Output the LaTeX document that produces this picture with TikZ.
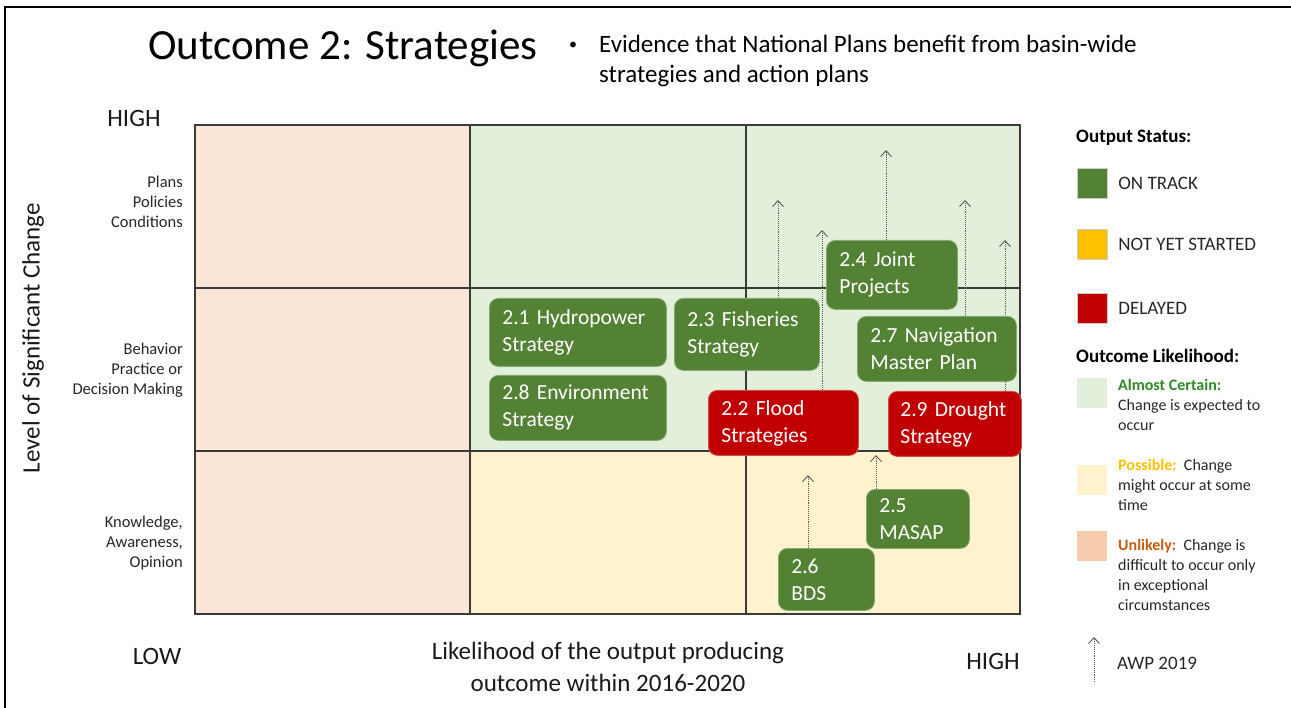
\documentclass[tikz,border=0pt]{standalone}
\usepackage{fontspec}
\setmainfont{Carlito}
\usetikzlibrary{arrows.meta, positioning}
\definecolor{ontrack}{HTML}{548235}
\definecolor{notyet}{HTML}{FFC000}
\definecolor{delayed}{HTML}{C00000}
\definecolor{certainbg}{HTML}{E2EFDA}
\definecolor{possiblebg}{HTML}{FFF2CC}
\definecolor{unlikelybg}{HTML}{FBE5D6}
\definecolor{unlikelykey}{HTML}{F8CBAD}
\definecolor{certaintxt}{HTML}{2E8B22}
\definecolor{unlikelytxt}{HTML}{C55A11}
\definecolor{gridgray}{HTML}{3A3A3A}
\pgfdeclarelayer{back}
\pgfdeclarelayer{mid}
\pgfsetlayers{back,mid,main}

\begin{document}
\begin{tikzpicture}[
    x=1pt, y=-1pt,
    gridline/.style={draw=gridgray, line width=1.2pt},
    item/.style={rounded corners=9pt, text=white, font=\fontsize{21.5}{27}\selectfont, align=left, anchor=north west, inner xsep=13pt, inner ysep=0pt, line width=0.8pt},
    ontrackbox/.style={item, fill=ontrack, draw=ontrack!70!white},
    delayedbox/.style={item, fill=delayed, draw=delayed!70!white},
    awp/.style={densely dotted, draw=gray!70!black, line width=0.9pt, -{Straight Barb[length=6pt, width=11pt, line width=0.9pt]}},
    keysq/.style={minimum size=30pt, inner sep=0pt, draw=white!80!black, line width=0.4pt},
    keytxt/.style={font=\fontsize{19}{23}\selectfont, text=black!85, inner sep=0pt, anchor=west},
    keyhead/.style={font=\fontsize{19}{23}\selectfont\bfseries, inner sep=0pt, anchor=west},
    keydesc/.style={font=\fontsize{16}{20}\selectfont, text=black!85, inner sep=0pt, align=left, anchor=north west},
    rowlabel/.style={font=\fontsize{16.5}{20}\selectfont, text=black!85, inner sep=0pt, align=right, anchor=east},
    axislabel/.style={font=\fontsize{25}{32}\selectfont, text=black!90, inner sep=0pt, align=center}
]
\useasboundingbox (0,0) rectangle (1291,708);

% --- Frame ---
\draw[line width=2.2pt] (5,708) |- (1291,7);

% --- Title ---
\node[font=\fontsize{43}{50}\selectfont, inner sep=0pt] (title) at (343,48) {Outcome 2: Strategies};
\node[font=\fontsize{16}{20}\selectfont, inner sep=0pt] (bullet) at (573,46) {•};
\node[font=\fontsize{25}{30}\selectfont, inner sep=0pt, align=left, anchor=west] (subtitle) at (599,61) {Evidence that National Plans benefit from basin-wide\\strategies and action plans};

% --- Grid ---
\begin{pgfonlayer}{back}
\fill[unlikelybg] (195,125) rectangle (470,614);
\fill[certainbg] (470,125) rectangle (1020,451);
\fill[possiblebg] (470,451) rectangle (1020,614);
\foreach \x in {470,746} \draw[gridline] (\x,125) -- (\x,614);
\foreach \y in {288,451} \draw[gridline] (195,\y) -- (1020,\y);
\draw[gridline] (195,125) rectangle (1020,614);
\end{pgfonlayer}

% --- Axis labels ---
\node[axislabel] (yhigh) at (134,118) {HIGH};
\node[axislabel] (ylow) at (157,656) {LOW};
\node[axislabel] (xhigh) at (993,661) {HIGH};
\node[axislabel] (xaxis) at (608,667) {Likelihood of the output producing\\outcome within 2016-2020};
\node[axislabel, rotate=90] (yaxis) at (33,338) {Level of Significant Change};
\node[rowlabel] (rowplans) at (183,202) {Plans\\Policies\\Conditions};
\node[rowlabel] (rowbehav) at (183,370) {Behavior\\Practice or\\Decision Making};
\node[rowlabel] (rowknow) at (183,543) {Knowledge,\\Awareness,\\Opinion};

% --- Outputs ---
\node[ontrackbox, minimum width=177pt, minimum height=68pt, text width=151pt] (hydro) at (489,298) {2.1 Hydropower\\Strategy};
\node[ontrackbox, minimum width=177pt, minimum height=65pt, text width=151pt] (env) at (489,375) {2.8 Environment\\Strategy};
\node[ontrackbox, minimum width=145pt, minimum height=72pt, text width=119pt] (fish) at (674,298) {2.3 Fisheries\\Strategy};
\node[ontrackbox, minimum width=131pt, minimum height=69pt, text width=105pt] (joint) at (826,240) {2.4 Joint\\Projects};
\node[ontrackbox, minimum width=159pt, minimum height=65pt, text width=133pt] (nav) at (857,316) {2.7 Navigation\\Master Plan};
\node[delayedbox, minimum width=150pt, minimum height=65pt, text width=124pt] (flood) at (708,390) {2.2 Flood\\Strategies};
\node[delayedbox, minimum width=133pt, minimum height=65pt, text width=109pt, inner xsep=12pt] (drought) at (888,391) {2.9 Drought\\Strategy};
\node[ontrackbox, minimum width=103pt, minimum height=59pt, text width=77pt] (masap) at (866,489) {2.5\\MASAP};
\node[ontrackbox, minimum width=96pt, minimum height=62pt, text width=70pt] (bds) at (778,548) {2.6\\BDS};

% --- AWP 2019 arrows ---
\coordinate (fishtip) at (778,200);
\coordinate (floodtip) at (822,230);
\coordinate (jointtip) at (886,150);
\coordinate (navtip) at (965,200);
\coordinate (droughttip) at (1005,240);
\coordinate (masaptip) at (876,455);
\coordinate (bdstip) at (808,475);
\begin{pgfonlayer}{mid}
\draw[awp] (fish.north -| fishtip) -- (fishtip);
\draw[awp] (flood.north -| floodtip) -- (floodtip);
\draw[awp] (joint.north -| jointtip) -- (jointtip);
\draw[awp] (nav.north -| navtip) -- (navtip);
\draw[awp] (drought.north -| droughttip) -- (droughttip);
\draw[awp] (masap.north -| masaptip) -- (masaptip);
\draw[awp] (bds.north -| bdstip) -- (bdstip);
\end{pgfonlayer}

% --- Legend ---
\node[keyhead] (statushead) at (1076,138) {Output Status:};
\node[keysq, fill=ontrack] (keyon) at (1092,183) {};
\node[keytxt, right=11pt of keyon] (txton) {ON TRACK};
\node[keysq, fill=notyet] (keynot) at (1092,244) {};
\node[keytxt, right=11pt of keynot] (txtnot) {NOT YET STARTED};
\node[keysq, fill=delayed] (keydel) at (1092,308) {};
\node[keytxt, right=11pt of keydel] (txtdel) {DELAYED};

\node[keyhead] (likehead) at (1076,356) {Outcome Likelihood:};
\node[keysq, fill=certainbg, draw=none] (keycert) at (1092,393) {};
\node[keydesc] (txtcert) at (1118,379) {\textcolor{certaintxt}{\bfseries Almost Certain:}\\Change is expected to\\occur};
\node[keysq, fill=possiblebg, draw=none] (keyposs) at (1092,480) {};
\node[keydesc] (txtposs) at (1118,459) {\textcolor{notyet}{\bfseries Possible:}\ \ Change\\might occur at some\\time};
\node[keysq, fill=unlikelykey, draw=none] (keyunl) at (1092,546) {};
\node[keydesc] (txtunl) at (1118,539) {\textcolor{unlikelytxt}{\bfseries Unlikely:}\ \ Change is\\difficult to occur only\\in exceptional\\circumstances};

\coordinate (awpfoot) at (1094,682);
\coordinate (awptip) at (1094,637);
\draw[awp] (awpfoot) -- (awptip);
\node[keytxt] (txtawp) at (1117,663) {AWP 2019};

\end{tikzpicture}
\end{document}
